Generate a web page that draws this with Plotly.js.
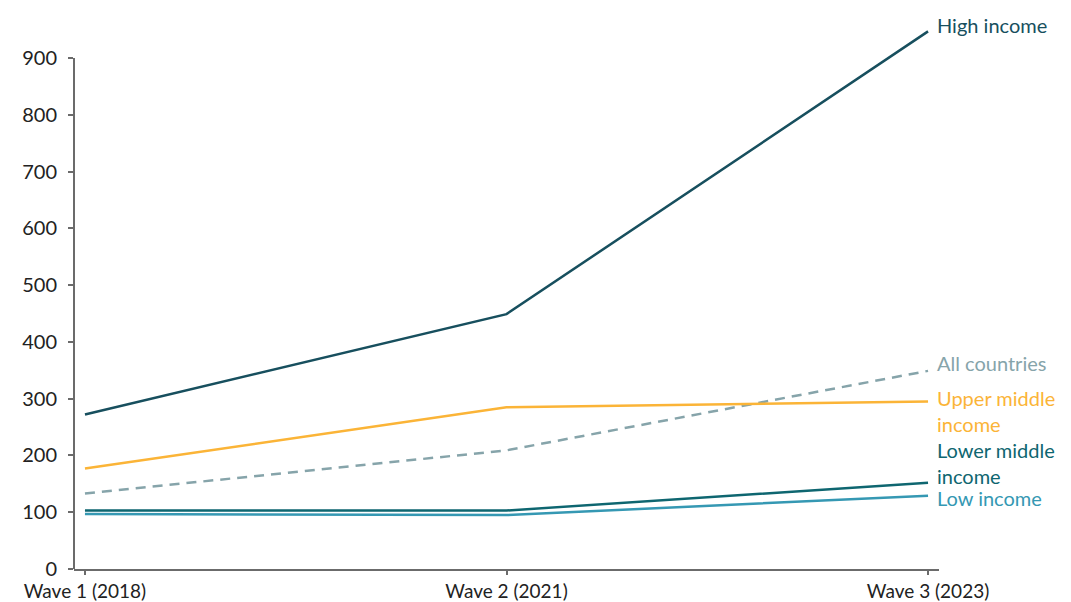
<!DOCTYPE html>
<html>
<head>
<meta charset="utf-8">
<script src="https://cdn.plot.ly/plotly-3.0.1.min.js"></script>
<style>
  html, body { margin: 0; padding: 0; background: #ffffff; }
  #chart { width: 1071px; height: 602px; }
</style>
</head>
<body>
<div id="chart"></div>
<script>
const waves = ["Wave 1 (2018)", "Wave 2 (2021)", "Wave 3 (2023)"];
const highIncome = [272, 449, 947];
const upperMiddle = [177, 285, 295];
const allCountries = [133, 209, 349];
const lowerMiddle = [103, 103, 152];
const lowIncome = [97, 95, 129];
const yTicks = [0, 100, 200, 300, 400, 500, 600, 700, 800, 900];

const series = [
  {name: "High income", label: "High income", y: highIncome, color: "#174f5e", dash: "solid", shift: 6},
  {name: "Upper middle income", label: "Upper middle<br>income", y: upperMiddle, color: "#fbb437", dash: "solid", shift: -9},
  {name: "All countries", label: "All countries", y: allCountries, color: "#86a4aa", dash: "10px,7px", shift: 8},
  {name: "Lower middle income", label: "Lower middle<br>income", y: lowerMiddle, color: "#0e6670", dash: "solid", shift: 20},
  {name: "Low income", label: "Low income", y: lowIncome, color: "#3598b3", dash: "solid", shift: -2}
];

const xIdx = waves.map((w, i) => i);
const FONT = "Lato, 'Open Sans', sans-serif";

const traces = series.map(s => ({
  type: "scatter",
  mode: "lines",
  name: s.name,
  x: xIdx,
  y: s.y,
  line: {color: s.color, width: 2.5, dash: s.dash},
  hoverinfo: "skip"
}));
traces.reverse();

const annotations = series.map(s => ({
  x: xIdx[xIdx.length - 1],
  y: s.y[s.y.length - 1],
  xref: "x", yref: "y",
  text: s.label,
  showarrow: false,
  xanchor: "left",
  yanchor: "middle",
  align: "left",
  xshift: 7,
  yshift: s.shift,
  font: {family: FONT, size: 20, color: s.color}
}));

const layout = {
  width: 1071,
  height: 602,
  margin: {l: 74, r: 132, t: 24, b: 33},
  paper_bgcolor: "#ffffff",
  plot_bgcolor: "#ffffff",
  showlegend: false,
  font: {family: FONT, size: 20, color: "#222222"},
  xaxis: {
    range: [-0.026, 2.026],
    tickvals: xIdx,
    ticktext: waves,
    showgrid: false,
    zeroline: false,
    showline: true,
    linecolor: "#6b6b6b",
    linewidth: 2,
    ticks: "outside",
    ticklen: 4,
    tickwidth: 2,
    tickcolor: "#6b6b6b",
    tickfont: {family: FONT, size: 19, color: "#222222"},
    fixedrange: true
  },
  yaxis: {
    range: [0, 960],
    tickvals: yTicks,
    ticktext: yTicks.map(String),
    showgrid: false,
    zeroline: false,
    showline: false,
    ticks: "outside",
    ticklen: 5,
    tickwidth: 2,
    tickcolor: "#6b6b6b",
    ticklabelstandoff: 7,
    tickfont: {family: FONT, size: 20, color: "#222222"},
    fixedrange: true
  },
  shapes: [{
    type: "line",
    xref: "paper", yref: "y",
    x0: 0, x1: 0,
    y0: 0, y1: yTicks[yTicks.length - 1],
    line: {color: "#6b6b6b", width: 2},
    layer: "above"
  }],
  annotations: annotations
};

Plotly.newPlot("chart", traces, layout, {displayModeBar: false, staticPlot: true});
</script>
</body>
</html>
